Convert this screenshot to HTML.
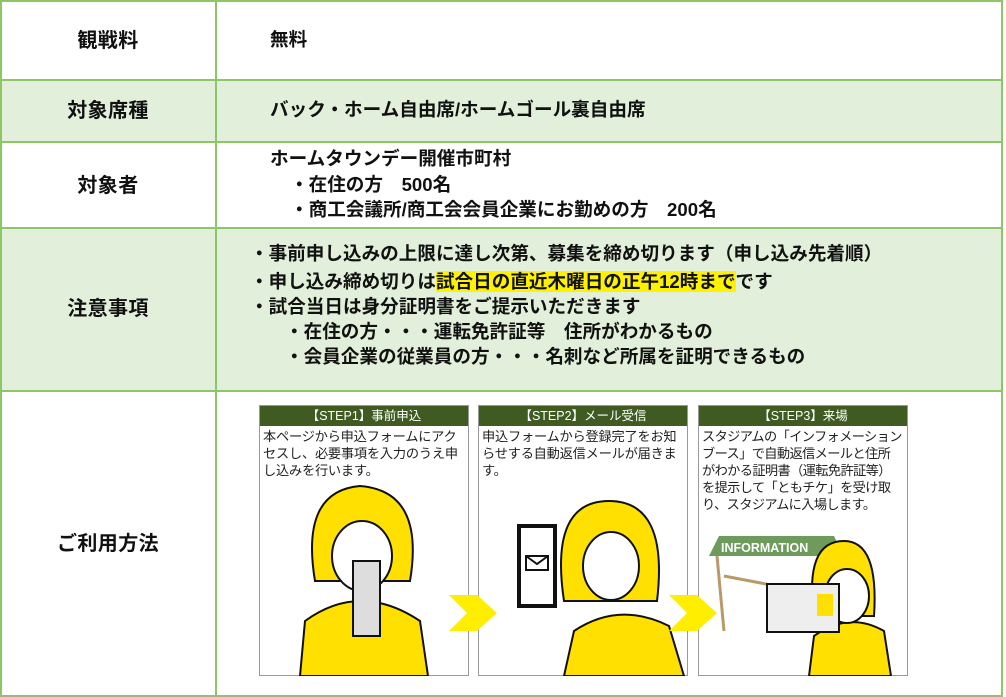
<!DOCTYPE html>
<html><head><meta charset="utf-8"><style>
body{margin:0;width:1006px;height:697px;background:#fff;position:relative;overflow:hidden;font-family:"Liberation Sans","Noto Sans CJK JP",sans-serif;}
.r{position:absolute;left:0;width:1003px;border:2px solid #8cc665;box-sizing:border-box;}
.g{background:#e2efda;}
.v{position:absolute;left:215px;top:0;width:2px;height:697px;background:#8cc665;}
.t{position:absolute;font-weight:bold;font-size:18.6px;letter-spacing:0;color:#111;white-space:nowrap;line-height:1;}
.lab{width:216px;text-align:center;left:0;font-size:20px;letter-spacing:0.4px;}
.box{position:absolute;top:405px;width:210px;height:271px;border:1px solid #999;box-sizing:border-box;background:#fff;}
.hd{height:20px;background:#3f5b22;color:#fff;font-size:12.5px;text-align:center;line-height:20px;}
.bt{font-size:13.2px;line-height:17px;padding:2px 2px 2px 3px;color:#222;white-space:nowrap;letter-spacing:-0.2px;}
.chev{position:absolute;top:595px;}
</style></head><body>
<div class="r" style="top:0;height:81px"></div>
<div class="r g" style="top:79px;height:64px"></div>
<div class="r" style="top:141px;height:88px"></div>
<div class="r g" style="top:227px;height:165px"></div>
<div class="r" style="top:390px;height:307px"></div>
<div class="v"></div>

<div class="t lab" style="top:31px">観戦料</div>
<div class="t" style="left:270px;top:31px">無料</div>
<div class="t lab" style="top:101px">対象席種</div>
<div class="t" style="left:270px;top:101px">バック・ホーム自由席/ホームゴール裏自由席</div>
<div class="t lab" style="top:176px">対象者</div>
<div class="t" style="left:270px;top:150px">ホームタウンデー開催市町村</div>
<div class="t" style="left:290px;top:176px">・在住の方　500名</div>
<div class="t" style="left:290px;top:201px">・商工会議所/商工会会員企業にお勤めの方　200名</div>
<div class="t lab" style="top:299px">注意事項</div>
<div class="t" style="left:250px;top:245px">・事前申し込みの上限に達し次第、募集を締め切ります（申し込み先着順）</div>
<div class="t" style="left:250px;top:273px">・申し込み締め切りは<span style="background:#fff200">試合日の直近木曜日の正午12時まで</span>です</div>
<div class="t" style="left:250px;top:298px">・試合当日は身分証明書をご提示いただきます</div>
<div class="t" style="left:285px;top:323px">・在住の方・・・運転免許証等　住所がわかるもの</div>
<div class="t" style="left:285px;top:348px">・会員企業の従業員の方・・・名刺など所属を証明できるもの</div>
<div class="t lab" style="top:534px">ご利用方法</div>

<div class="box" style="left:259px"><div class="hd">【STEP1】事前申込</div><div class="bt">本ページから申込フォームにアク<br>セスし、必要事項を入力のうえ申<br>し込みを行います。</div>
<svg width="208" height="215" style="position:absolute;left:0;top:55px"><path d="M40 215 L45 160 Q100 120 160 160 L168 215 Z" fill="#ffe000" stroke="#111" stroke-width="2"/><path d="M55 120 Q40 30 100 25 Q165 30 150 120 Z" fill="#ffe000" stroke="#111" stroke-width="2"/><ellipse cx="102" cy="95" rx="30" ry="35" fill="#fff" stroke="#111" stroke-width="2"/><rect x="93" y="100" width="27" height="75" fill="#ddd" stroke="#111" stroke-width="2"/></svg></div>
<div class="box" style="left:478px"><div class="hd">【STEP2】メール受信</div><div class="bt">申込フォームから登録完了をお知<br>らせする自動返信メールが届きま<br>す。</div>
<svg width="208" height="215" style="position:absolute;left:0;top:55px"><path d="M85 215 L95 170 Q140 140 190 165 L205 215 Z" fill="#ffe000" stroke="#111" stroke-width="2"/><path d="M85 140 Q70 40 130 40 Q190 40 178 140 Z" fill="#ffe000" stroke="#111" stroke-width="2"/><ellipse cx="132" cy="105" rx="28" ry="34" fill="#fff" stroke="#111" stroke-width="2"/><rect x="40" y="65" width="36" height="80" fill="#fff" stroke="#111" stroke-width="4"/><path d="M47 95 h22 v14 h-22 z M47 95 l11 8 l11 -8" fill="none" stroke="#111" stroke-width="2"/></svg></div>
<div class="box" style="left:698px"><div class="hd">【STEP3】来場</div><div class="bt" style="letter-spacing:-0.6px">スタジアムの「インフォメーション<br>ブース」で自動返信メールと住所<br>がわかる証明書（運転免許証等）<br>を提示して「ともチケ」を受け取<br>り、スタジアムに入場します。</div>
<svg width="208" height="160" style="position:absolute;left:0;top:110px"><path d="M20 20 L135 20 L145 40 L10 40 Z" fill="#6e9a5c"/><path d="M18 40 L25 115 M130 40 L122 115 M25 60 L130 80" stroke="#b89a6a" stroke-width="3" fill="none"/><text x="22" y="36" fill="#fff" font-size="12.5" font-weight="bold" font-family="Liberation Sans">INFORMATION</text><path d="M110 160 L115 120 Q150 95 185 115 L192 160 Z" fill="#ffe000" stroke="#111" stroke-width="2"/><path d="M115 100 Q105 25 145 25 Q180 25 175 100 Z" fill="#ffe000" stroke="#111" stroke-width="2"/><ellipse cx="148" cy="80" rx="22" ry="27" fill="#fff" stroke="#111" stroke-width="2"/><rect x="68" y="68" width="72" height="48" fill="#eee" stroke="#111" stroke-width="2"/><rect x="118" y="78" width="16" height="22" fill="#ffe000"/></svg></div>

<svg class="chev" width="50" height="36" style="left:449px"><path d="M0 0 H28 L48 18 L28 36 H0 L18 18 Z" fill="#ffee00"/></svg>
<svg class="chev" width="50" height="36" style="left:669px"><path d="M0 0 H28 L48 18 L28 36 H0 L18 18 Z" fill="#ffee00"/></svg>
</body></html>
